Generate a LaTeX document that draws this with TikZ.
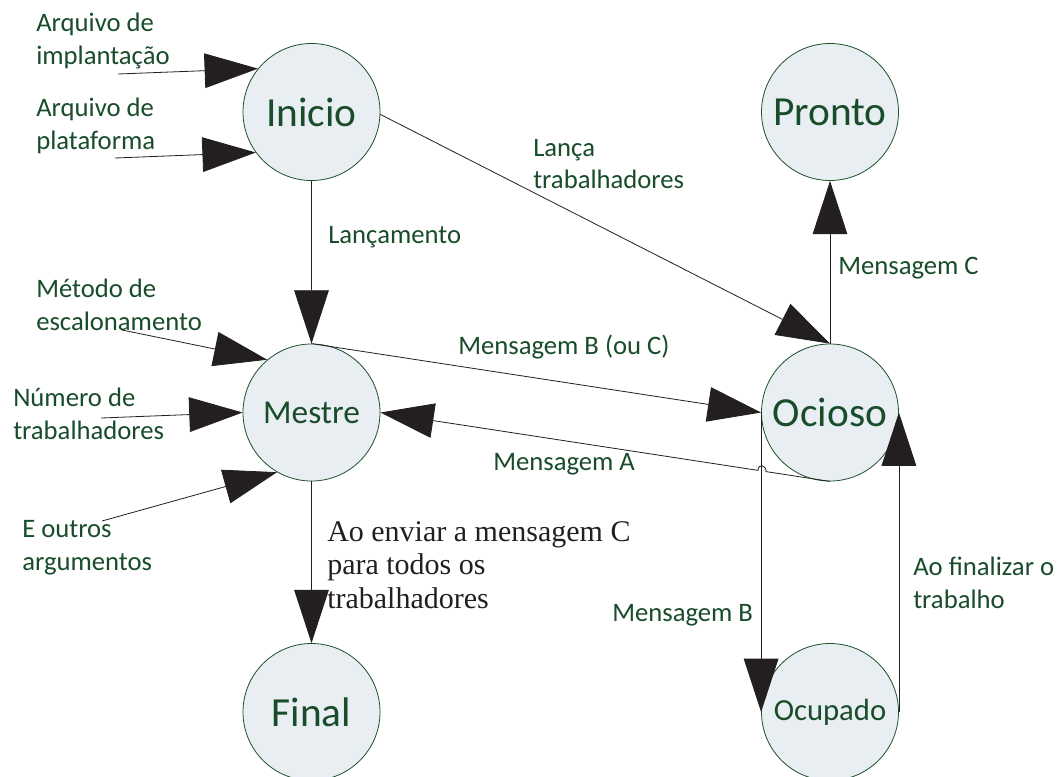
\documentclass[tikz,border=0pt]{standalone}
\usepackage{fontspec}
\setmainfont{Carlito}
\newfontfamily\timesfont{Liberation Serif}
\usetikzlibrary{arrows.meta,calc}

\definecolor{stategreen}{RGB}{30,80,45}
\definecolor{statefill}{RGB}{233,238,242}
\definecolor{labelgreen}{RGB}{24,76,42}
\definecolor{inkdark}{RGB}{35,31,32}

\tikzset{
  state/.style={circle, draw=stategreen, fill=statefill, line width=0.6pt,
    minimum size=102.75pt, inner sep=0pt, text=labelgreen},
  bigstate/.style={state, font=\fontsize{31}{36}\selectfont},
  midstate/.style={state, font=\fontsize{25}{30}\selectfont},
  lbl/.style={text=labelgreen, font=\fontsize{20}{24.5}\selectfont,
    align=left, anchor=west, inner sep=0pt},
  flow/.style={draw=inkdark, line width=0.6pt,
    -{Triangle[length=40pt,width=26pt,fill=inkdark]}},
}

\begin{document}
\begin{tikzpicture}[x=0.75pt,y=-0.75pt]
  \clip (0,0) rectangle (1057,776);
  \fill[white] (0,0) rectangle (1057,776);

  % states
  \node[bigstate] (inicio) at (311.5,112) {Inicio};
  \node[midstate] (mestre) at (311.5,412.5) {Mestre};
  \node[bigstate] (final)  at (311.5,712) {Final};
  \node[bigstate] (pronto) at (830,112) {Pronto};
  \node[bigstate] (ocioso) at (830,412.5) {Ocioso};
  \node[state, font=\fontsize{23}{28}\selectfont] (ocupado) at (830,712) {Ocupado};

  % free ends of the input arrows
  \coordinate (inImp)   at (118,74);
  \coordinate (inPlat)  at (115,158);
  \coordinate (inMet)   at (122,330);
  \coordinate (inNum)   at (101,418);
  \coordinate (inOut)   at (102,521);

  % inputs
  \draw[flow] (inImp)  -- (inicio.141);
  \draw[flow] (inPlat) -- (inicio.216);
  \draw[flow] (inMet)  -- (mestre.130);
  \draw[flow] (inNum)  -- (mestre.180);
  \draw[flow] (inOut)  -- (mestre.240);

  % transitions
  \draw[flow] (inicio.south) -- (mestre.north);
  \draw[flow] (inicio.358) -- (ocioso.north);
  \draw[flow] (mestre.north) -- (ocioso.west);
  \draw[flow] (mestre.south) -- (final.north);
  \draw[flow] (ocioso.north) -- (pronto.south);
  \draw[flow] (ocioso.west) -- (ocupado.west);
  \draw[flow] (ocupado.east) -- (ocioso.east);

  % Mensagem A, hopping over the Ocioso -> Ocupado line
  \coordinate (hopR) at ($(ocioso.south)!0.1422!(mestre.east)$);
  \coordinate (hopL) at ($(ocioso.south)!0.16!(mestre.east)$);
  \draw[flow] (ocioso.south) -- (hopR)
    .. controls +(0,-7) and +(0,-7) .. (hopL) -- (mestre.east);

  % labels
  \node[lbl] (lImp)  at (36,41)   {Arquivo de\\implantação};
  \node[lbl] (lPlat) at (36,126)  {Arquivo de\\plataforma};
  \node[lbl] (lMet)  at (36,305)  {Método de\\escalonamento};
  \node[lbl] (lNum)  at (13,414)  {Número de\\trabalhadores};
  \node[lbl] (lOut)  at (22,548)  {E outros\\argumentos};
  \node[lbl] (lLanc) at (328,237) {Lançamento};
  \node[lbl] (lTrab) at (533,164) {Lança\\trabalhadores};
  \node[lbl] (lBC)   at (458,347) {Mensagem B (ou C)};
  \node[lbl] (lA)    at (493,464) {Mensagem A};
  \node[lbl] (lC)    at (838,268) {Mensagem C};
  \node[lbl] (lB)    at (612,615) {Mensagem B};
  \node[lbl] (lFin)  at (913,583) {Ao finalizar o\\trabalho};
  \node[lbl, text=inkdark, font=\timesfont\fontsize{22.5}{25}\selectfont]
    (lEnv) at (327,565) {Ao enviar a mensagem C\\para todos os\\trabalhadores};
\end{tikzpicture}
\end{document}
